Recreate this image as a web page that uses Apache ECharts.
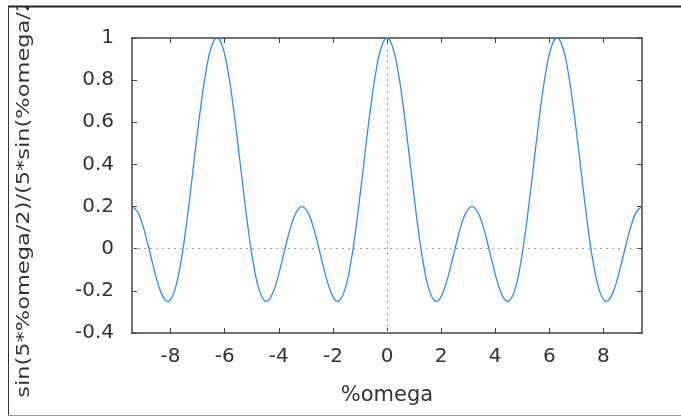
<!DOCTYPE html>
<html>
<head>
    <meta charset="UTF-8">
    <title>sin(5*%omega/2)/(5*sin(%omega/2))</title>
    <script src="https://cdn.jsdelivr.net/npm/echarts@6/dist/echarts.min.js"></script>
    <style>
        html, body { margin: 0; padding: 0; background: #fff; }
    </style>
</head>
<body>
<div id="plot" style="width: 681px;height: 416px;"></div>

<script type="text/javascript">
    // samples of the curve (extra points at the troughs)
    var omega = [
        -9.425, -9.228, -9.032, -8.836, -8.639, -8.443, -8.247, -8.107, -8.050, -7.854, -7.658, -7.461, -7.265,
        -7.069, -6.872, -6.676, -6.480, -6.283, -6.087, -5.890, -5.694, -5.498, -5.301, -5.105, -4.909,
        -4.712, -4.516, -4.460, -4.320, -4.123, -3.927, -3.731, -3.534, -3.338, -3.142, -2.945, -2.749, -2.553,
        -2.356, -2.160, -1.963, -1.823, -1.767, -1.571, -1.374, -1.178, -0.982, -0.785, -0.589, -0.393, -0.196,
        0,
        0.196, 0.393, 0.589, 0.785, 0.982, 1.178, 1.374, 1.571, 1.767, 1.823, 1.963, 2.160, 2.356,
        2.553, 2.749, 2.945, 3.142, 3.338, 3.534, 3.731, 3.927, 4.123, 4.320, 4.460, 4.516, 4.712,
        4.909, 5.105, 5.301, 5.498, 5.694, 5.890, 6.087, 6.283, 6.480, 6.676, 6.872, 7.069,
        7.265, 7.461, 7.658, 7.854, 8.050, 8.107, 8.247, 8.443, 8.639, 8.836, 9.032, 9.228, 9.425
    ];
    var response = [
        0.200, 0.177, 0.113, 0.020, -0.083, -0.175, -0.236, -0.250, -0.248, -0.200, -0.092, 0.070, 0.269,
        0.483, 0.686, 0.852, 0.962, 1.000, 0.962, 0.852, 0.686, 0.483, 0.269, 0.070, -0.092,
        -0.200, -0.248, -0.250, -0.236, -0.175, -0.083, 0.020, 0.113, 0.177, 0.200, 0.177, 0.113, 0.020,
        -0.083, -0.175, -0.236, -0.250, -0.248, -0.200, -0.092, 0.070, 0.269, 0.483, 0.686, 0.852, 0.962,
        1.000,
        0.962, 0.852, 0.686, 0.483, 0.269, 0.070, -0.092, -0.200, -0.248, -0.250, -0.236, -0.175, -0.083,
        0.020, 0.113, 0.177, 0.200, 0.177, 0.113, 0.020, -0.083, -0.175, -0.236, -0.250, -0.248, -0.200,
        -0.092, 0.070, 0.269, 0.483, 0.686, 0.852, 0.962, 1.000, 0.962, 0.852, 0.686, 0.483,
        0.269, 0.070, -0.092, -0.200, -0.248, -0.250, -0.236, -0.175, -0.083, 0.020, 0.113, 0.177, 0.200
    ];
    var xTicks = [-8, -6, -4, -2, 0, 2, 4, 6, 8];
    var xMin = -9.425, xMax = 9.425;
    var yMin = -0.4, yMax = 1, yStep = 0.2;

    var xName = '%omega';
    var yName = 'sin(5*%omega/2)/(5*sin(%omega/2))';

    window.onload = function () {
        var chart = echarts.init(document.getElementById('plot'));

        var points = [];
        for (var i = 0; i < omega.length; i++) {
            points.push([omega[i], response[i]]);
        }

        var font = 'DejaVu Sans';
        var lineCol = '#444';
        var axisLine = {show: true, onZero: false, lineStyle: {color: lineCol, width: 1.5}};
        var tick = {show: true, inside: true, length: 5, lineStyle: {color: lineCol, width: 1}};

        var option = {
            animation: false,
            grid: {left: 132, right: 39, top: 38, bottom: 83},
            xAxis: [
                {
                    type: 'value', min: xMin, max: xMax, position: 'bottom',
                    name: xName, nameLocation: 'middle', nameGap: 52,
                    nameTextStyle: {fontFamily: font, fontSize: 21, color: '#333'},
                    axisLine: axisLine,
                    axisTick: Object.assign({customValues: xTicks}, tick),
                    axisLabel: {customValues: xTicks, margin: 14, fontFamily: font, fontSize: 20, color: '#333'},
                    splitLine: {show: false}
                },
                {
                    type: 'value', min: xMin, max: xMax, position: 'top',
                    axisLine: axisLine,
                    axisTick: Object.assign({customValues: xTicks}, tick),
                    axisLabel: {show: false},
                    splitLine: {show: false}
                }
            ],
            yAxis: [
                {
                    type: 'value', min: yMin, max: yMax, interval: yStep, position: 'left',
                    axisLine: axisLine,
                    axisTick: tick,
                    axisLabel: {margin: 18, fontFamily: font, fontSize: 20, color: '#333'},
                    splitLine: {show: false}
                },
                {
                    type: 'value', min: yMin, max: yMax, interval: yStep, position: 'right',
                    axisLine: axisLine,
                    axisTick: tick,
                    axisLabel: {show: false},
                    splitLine: {show: false}
                }
            ],
            series: [
                {
                    type: 'line',
                    data: points,
                    showSymbol: false,
                    smooth: true,
                    lineStyle: {color: '#2a8ef5', width: 1.3},
                    markLine: {
                        silent: true,
                        symbol: 'none',
                        label: {show: false},
                        lineStyle: {color: '#a0a0a0', type: [2, 4], width: 1},
                        data: [{xAxis: 0}, {yAxis: 0}]
                    }
                }
            ],
            graphic: [
                {
                    type: 'text', x: 24, y: 189, rotation: Math.PI / 2, scaleX: 1.25,
                    style: {text: yName, fontFamily: font, fontSize: 18, fill: '#333',
                        align: 'center', verticalAlign: 'middle'}
                },
                {type: 'rect', shape: {x: 0, y: 0, width: 681, height: 6}, style: {fill: '#fff'}, z: 100},
                {type: 'rect', shape: {x: 0, y: 0, width: 8, height: 416}, style: {fill: '#fff'}, z: 100},
                {type: 'line', shape: {x1: 8, y1: 6.5, x2: 681, y2: 6.5}, style: {stroke: '#222', lineWidth: 2}, z: 101},
                {type: 'line', shape: {x1: 8.5, y1: 6, x2: 8.5, y2: 416}, style: {stroke: '#333', lineWidth: 1}, z: 101},
                {type: 'line', shape: {x1: 8, y1: 415.5, x2: 681, y2: 415.5}, style: {stroke: '#999', lineWidth: 1}, z: 101}
            ]
        };

        option && chart.setOption(option);
    };
</script>
</body>
</html>
